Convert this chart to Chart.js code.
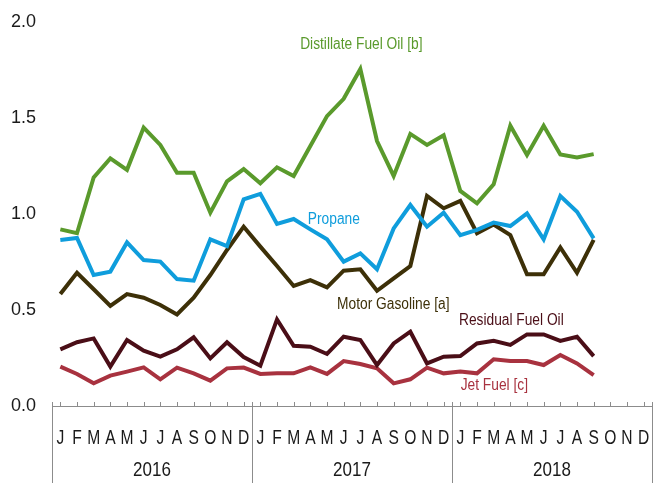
<!DOCTYPE html>
<html lang="en">
<head>
<meta charset="UTF-8">
<title>Fuel prices 2016-2018</title>
<style>
  body { margin: 0; background: #fff; }
  .wrap { width: 665px; height: 483px; position: relative; }
</style>
</head>
<body>
<div class="wrap"><canvas id="fuelChart" width="665" height="483"></canvas></div>
<script src="https://cdn.jsdelivr.net/npm/chart.js"></script>
<script>
// months Jan 2016 .. Dec 2018, data runs to Sep 2018
const months = ['J','F','M','A','M','J','J','A','S','O','N','D'];
const years = ['2016', '2017', '2018'];
const yTicks = [0, 0.5, 1.0, 1.5, 2.0];

const distillate = [0.92, 0.90, 1.19, 1.29, 1.23, 1.45, 1.36, 1.215, 1.215, 1.007, 1.17, 1.234,
  1.16, 1.243, 1.198, 1.354, 1.51, 1.60, 1.755, 1.38, 1.198, 1.417, 1.36, 1.41,
  1.12, 1.056, 1.155, 1.46, 1.307, 1.46, 1.31, 1.295, 1.312];
const propane = [0.865, 0.875, 0.682, 0.70, 0.852, 0.76, 0.752, 0.661, 0.653, 0.868, 0.833, 1.076,
  1.105, 0.948, 0.974, 0.92, 0.868, 0.752, 0.795, 0.712, 0.925, 1.047, 0.934, 1.007,
  0.89, 0.917, 0.955, 0.9375, 1.003, 0.868, 1.094, 1.012, 0.873];
const motorGas = [0.583, 0.694, 0.608, 0.521, 0.583, 0.564, 0.526, 0.477, 0.564, 0.682, 0.8125, 0.934,
  0.83, 0.729, 0.625, 0.656, 0.618, 0.705, 0.712, 0.60, 0.665, 0.729, 1.094, 1.03,
  1.068, 0.90, 0.945, 0.89, 0.686, 0.686, 0.826, 0.694, 0.865];
const residual = [0.295, 0.332, 0.352, 0.205, 0.344, 0.288, 0.257, 0.295, 0.358, 0.248, 0.332, 0.255,
  0.21, 0.451, 0.314, 0.309, 0.271, 0.361, 0.344, 0.2135, 0.326, 0.387, 0.222, 0.257,
  0.26, 0.326, 0.34, 0.318, 0.373, 0.373, 0.339, 0.361, 0.26];
const jetFuel = [0.205, 0.167, 0.118, 0.158, 0.179, 0.201, 0.139, 0.2, 0.17, 0.132, 0.196, 0.2,
  0.167, 0.17, 0.17, 0.201, 0.167, 0.234, 0.219, 0.196, 0.118, 0.139, 0.2, 0.17,
  0.179, 0.17, 0.243, 0.234, 0.234, 0.2135, 0.266, 0.222, 0.161];

const FONT = '"Liberation Sans", Arial, sans-serif';
const labels = [];
years.forEach(y => months.forEach(m => labels.push(m)));

// text labels placed next to the lines: [text, index, value, colour]
const seriesNotes = [
  ['Distillate Fuel Oil [b]', 18.06, 1.88, '#5a9a2c'],
  ['Propane', 16.41, 0.969, '#0f9ddc'],
  ['Motor Gasoline [a]', 19.98, 0.526, '#3d3008'],
  ['Residual Fuel Oil', 27.06, 0.443, '#4a0e17'],
  ['Jet Fuel [c]', 26.04, 0.104, '#a8323f']
];

function line(label, data, color) {
  return {
    label: label,
    data: data,
    borderColor: color,
    backgroundColor: color,
    borderWidth: 4,
    pointRadius: 0,
    tension: 0,
    fill: false
  };
}

// the reference uses a condensed face, so squeeze the text sideways
function narrowText(ctx, text, x, y, size, sx) {
  ctx.save();
  ctx.translate(x, y);
  ctx.scale(sx, 1);
  ctx.font = size + 'px ' + FONT;
  ctx.fillText(text, 0, 0);
  ctx.restore();
}

const axisBox = {
  id: 'axisBox',
  afterDraw(chart) {
    const ctx = chart.ctx;
    const x = chart.scales.x, y = chart.scales.y;
    const step = x.getPixelForValue(1) - x.getPixelForValue(0);
    const y0 = y.getPixelForValue(0);
    ctx.save();
    ctx.strokeStyle = '#8c8c8c';
    ctx.lineWidth = 1;
    ctx.beginPath();
    for (let i = 0; i < labels.length; i++) {
      const px = Math.round(x.getPixelForValue(i)) + 0.5;
      ctx.moveTo(px, y0 - 4);
      ctx.lineTo(px, y0);
    }
    for (let k = 0; k <= years.length; k++) {
      const px = Math.round(x.getPixelForValue(k * 12) - step / 2) + 0.5;
      ctx.moveTo(px, y0 - 4);
      ctx.lineTo(px, chart.height);
    }
    ctx.moveTo(x.getPixelForValue(0) - step / 2, Math.round(y0) + 0.5);
    ctx.lineTo(x.getPixelForValue(labels.length - 1) + step / 2, Math.round(y0) + 0.5);
    ctx.stroke();

    ctx.fillStyle = '#1a1a1a';
    ctx.textAlign = 'center';
    ctx.textBaseline = 'middle';
    labels.forEach((m, i) => narrowText(ctx, m, x.getPixelForValue(i), 438, 20, 0.78));
    years.forEach((yr, k) => {
      const cx = (x.getPixelForValue(k * 12) + x.getPixelForValue(k * 12 + 11)) / 2;
      narrowText(ctx, yr, cx, 470, 20, 0.85);
    });

    seriesNotes.forEach(n => {
      ctx.fillStyle = n[3];
      narrowText(ctx, n[0], x.getPixelForValue(n[1]), y.getPixelForValue(n[2]), 16, 0.86);
    });
    ctx.restore();
  }
};

new Chart(document.getElementById('fuelChart'), {
  type: 'line',
  data: {
    labels: labels,
    datasets: [
      line('Distillate Fuel Oil [b]', distillate, '#5a9a2c'),
      line('Propane', propane, '#0f9ddc'),
      line('Motor Gasoline [a]', motorGas, '#3d3008'),
      line('Residual Fuel Oil', residual, '#4a0e17'),
      line('Jet Fuel [c]', jetFuel, '#a8323f')
    ]
  },
  options: {
    responsive: false,
    animation: false,
    events: [],
    layout: { padding: { top: 22, right: 13, left: 0, bottom: 0 } },
    plugins: { legend: { display: false }, tooltip: { enabled: false } },
    scales: {
      x: {
        offset: true,
        grid: { display: false, drawTicks: false },
        border: { display: false },
        ticks: { display: false },
        afterFit(s) { s.height = 77; }
      },
      y: {
        min: 0, max: 2,
        afterBuildTicks(s) { s.ticks = yTicks.map(v => ({ value: v })); },
        grid: { display: false, drawTicks: false },
        border: { display: false },
        ticks: {
          padding: 16, color: '#1a1a1a',
          font: { family: FONT, size: 18 },
          callback: v => v.toFixed(1)
        },
        afterFit(s) { s.width = 52; s.paddingTop = 0; s.paddingBottom = 0; }
      }
    }
  },
  plugins: [axisBox]
});
</script>
</body>
</html>
